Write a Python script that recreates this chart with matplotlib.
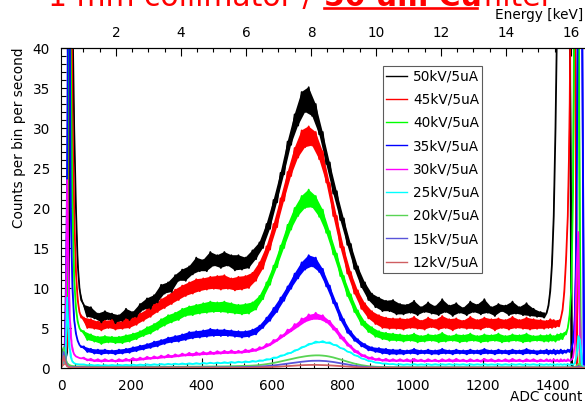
import numpy as np
import matplotlib
matplotlib.use("Agg")
import matplotlib.pyplot as plt
from matplotlib.lines import Line2D
from matplotlib.ticker import MultipleLocator

plt.rcParams['font.family'] = ['DejaVu Sans']

# ADC binning: 5-channel bins at the two detector edges, 10-channel bins in between
adc_edges = np.concatenate([np.arange(0, 60, 5), np.arange(60, 1380, 10), np.arange(1380, 1505, 5)])
adc_centers = 0.5 * (adc_edges[:-1] + adc_edges[1:])

# energy calibration for the top axis
kev_offset = 28.5
adc_per_kev = 92.5

labels = ['50kV/5uA', '45kV/5uA', '40kV/5uA', '35kV/5uA', '30kV/5uA',
          '25kV/5uA', '20kV/5uA', '15kV/5uA', '12kV/5uA']
colors = ['#000000', '#ff0000', '#00ff00', '#0000ff', '#ff00ff',
          '#00ffff', '#59d454', '#5954d9', '#cf5e61']

cps_50kv = [1.2, 2.4, 1.0, 2.0, 12.0, 55.0, 45.0, 30.0, 20.0, 13.0, 10.0, 8.5,
            7.9, 6.4, 7.6, 6.2, 6.8, 5.7, 7.1, 6.1, 6.8, 5.6,
            6.6, 5.9, 7.4, 6.0, 7.0, 6.4, 8.0, 7.3, 8.7, 7.4,
            9.1, 8.2, 10.4, 9.3, 10.7, 9.5, 11.6, 10.9, 12.3, 10.9,
            12.7, 11.7, 13.8, 12.1, 13.5, 12.1, 14.5, 12.8, 14.1, 12.5,
            14.5, 12.8, 14.1, 12.2, 14.1, 12.3, 13.8, 12.5, 14.7, 13.6,
            15.7, 15.0, 18.0, 17.4, 21.0, 20.7, 24.4, 24.2, 28.3, 27.9,
            31.7, 30.3, 34.5, 32.0, 35.1, 31.5, 33.0, 29.2, 29.5, 25.5,
            25.7, 21.8, 22.1, 18.5, 18.7, 15.4, 15.5, 12.4, 12.7, 10.1,
            10.7, 8.5, 9.3, 7.6, 8.8, 7.1, 8.4, 7.1, 8.5, 6.7,
            8.0, 6.7, 7.9, 6.9, 8.4, 6.6, 7.6, 7.0, 8.2, 6.8,
            7.7, 6.6, 8.6, 7.0, 7.8, 6.5, 8.1, 6.9, 7.5, 6.6,
            8.3, 7.0, 7.9, 6.7, 8.6, 6.9, 7.6, 6.5, 8.0, 7.1,
            7.8, 6.6, 8.3, 6.8, 7.6, 6.6, 8.1, 6.5, 7.4, 6.4,
            7.0, 6.3,
            6.9, 7.8, 9.6, 13.0, 19.0, 30.0, 45.0, 60.0, 60.0, 60.0, 60.0, 60.0,
            60.0, 60.0, 0.4, 0.2, 0.1, 0.1, 0.1, 0.1, 0.1, 0.1, 0.1, 0.1]

cps_45kv = [1.0, 2.0, 1.0, 3.0, 35.0, 60.0, 32.0, 19.0, 12.0, 8.5, 7.0, 6.3,
            6.3, 5.0, 6.1, 4.9, 5.8, 4.7, 5.9, 5.0, 6.0, 4.8,
            5.7, 4.9, 6.1, 5.0, 6.2, 5.4, 6.8, 5.9, 7.3, 6.4,
            7.9, 7.0, 8.6, 7.5, 9.1, 8.0, 9.8, 8.5, 10.3, 9.0,
            10.7, 9.3, 11.1, 9.6, 11.2, 9.8, 11.4, 9.9, 11.5, 9.8,
            11.6, 9.9, 11.2, 9.7, 11.4, 9.8, 11.5, 10.0, 11.9, 10.9,
            13.2, 12.4, 15.2, 14.8, 18.0, 17.6, 21.2, 20.9, 24.5, 24.0,
            27.5, 26.3, 29.7, 27.6, 30.2, 27.8, 29.5, 26.1, 27.1, 23.2,
            23.1, 19.0, 19.0, 15.1, 15.1, 11.8, 12.0, 9.3, 9.7, 7.4,
            8.1, 6.2, 7.1, 5.5, 6.6, 5.0, 6.3, 4.9, 6.2, 4.9,
            6.2, 4.8, 6.1, 5.0, 6.4, 4.9, 5.9, 4.8, 6.3, 5.1,
            6.0, 4.8, 6.5, 5.0, 6.1, 4.7, 6.2, 5.0, 5.9, 4.9,
            6.4, 4.9, 6.0, 4.8, 6.3, 5.1, 6.1, 4.7, 6.2, 5.0,
            6.0, 4.8, 6.4, 5.0, 6.0, 4.9, 6.3, 4.8, 6.1, 4.9,
            6.0, 4.9,
            5.9, 5.0, 6.1, 5.0, 6.0, 5.1, 5.9, 5.2, 6.2, 7.2, 9.5, 13.5,
            19.0, 30.0, 60.0, 60.0, 60.0, 0.5, 0.2, 0.2, 0.2, 0.2, 0.2, 0.2]

cps_40kv = [0.8, 1.8, 1.0, 8.0, 60.0, 40.0, 20.0, 11.0, 7.5, 5.8, 5.0, 4.6,
            4.6, 3.5, 4.2, 3.3, 3.9, 3.0, 4.0, 3.2, 3.9, 3.1,
            3.9, 3.1, 4.1, 3.3, 4.3, 3.6, 4.6, 4.0, 5.1, 4.3,
            5.5, 4.8, 6.1, 5.3, 6.6, 5.7, 6.9, 6.0, 7.4, 6.5,
            7.7, 6.6, 7.9, 6.8, 8.1, 6.9, 8.3, 7.0, 8.2, 7.0,
            8.3, 6.9, 8.1, 6.8, 7.9, 6.7, 8.0, 6.8, 8.2, 7.3,
            9.0, 8.6, 10.7, 10.4, 12.8, 12.6, 15.3, 15.0, 17.9, 17.3,
            20.0, 19.0, 21.5, 20.0, 22.3, 20.1, 21.5, 18.9, 19.8, 16.9,
            17.1, 14.2, 14.3, 11.5, 11.5, 9.0, 9.2, 7.0, 7.2, 5.4,
            5.8, 4.5, 5.1, 3.9, 4.6, 3.6, 4.4, 3.4, 4.3, 3.4,
            4.2, 3.3, 4.1, 3.4, 4.3, 3.2, 4.0, 3.3, 4.2, 3.4,
            4.1, 3.2, 4.4, 3.3, 4.0, 3.4, 4.2, 3.2, 4.1, 3.3,
            4.3, 3.4, 4.0, 3.2, 4.2, 3.3, 4.1, 3.4, 4.3, 3.2,
            4.0, 3.3, 4.2, 3.4, 4.1, 3.2, 4.3, 3.3, 4.0, 3.4,
            4.1, 3.3,
            4.1, 3.3, 4.2, 3.4, 4.0, 3.3, 4.2, 3.5, 4.3, 3.6, 4.4, 4.2,
            5.0, 6.5, 10.0, 22.0, 60.0, 60.0, 60.0, 0.5, 0.3, 0.2, 0.2, 0.2]

cps_35kv = [0.7, 1.5, 1.0, 25.0, 70.0, 20.0, 10.0, 6.0, 4.3, 3.4, 2.9, 2.6,
            2.7, 2.0, 2.4, 1.8, 2.3, 1.7, 2.3, 1.8, 2.2, 1.7,
            2.3, 1.8, 2.4, 1.9, 2.6, 2.1, 2.8, 2.3, 3.0, 2.5,
            3.3, 2.7, 3.5, 3.0, 3.8, 3.2, 4.0, 3.3, 4.2, 3.5,
            4.5, 3.7, 4.6, 3.8, 4.7, 3.9, 4.9, 4.0, 4.8, 4.0,
            4.8, 4.0, 4.7, 3.9, 4.6, 3.8, 4.6, 3.9, 4.8, 4.2,
            5.3, 5.0, 6.3, 5.9, 7.5, 7.0, 8.8, 8.4, 10.2, 9.9,
            11.8, 11.2, 13.2, 12.3, 14.1, 12.7, 13.8, 12.0, 12.4, 10.2,
            10.3, 8.1, 8.1, 6.0, 6.1, 4.4, 4.6, 3.4, 3.6, 2.7,
            3.0, 2.2, 2.6, 2.0, 2.5, 1.8, 2.4, 1.7, 2.3, 1.7,
            2.3, 1.7, 2.2, 1.8, 2.4, 1.7, 2.2, 1.8, 2.3, 1.7,
            2.2, 1.7, 2.4, 1.8, 2.2, 1.7, 2.3, 1.8, 2.2, 1.7,
            2.3, 1.8, 2.2, 1.7, 2.4, 1.8, 2.2, 1.7, 2.3, 1.8,
            2.2, 1.7, 2.3, 1.8, 2.2, 1.7, 2.4, 1.8, 2.2, 1.7,
            2.2, 1.8,
            2.3, 1.7, 2.2, 1.8, 2.3, 1.7, 2.2, 1.8, 2.3, 1.8, 2.2, 1.9,
            2.3, 2.0, 2.4, 3.2, 6.0, 18.0, 60.0, 60.0, 60.0, 0.5, 0.3, 0.3]

cps_30kv = [0.6, 1.2, 0.8, 23.5, 9.0, 4.0, 2.3, 1.7, 1.45, 1.35, 1.25, 1.2,
            1.3, 0.95, 1.15, 0.85, 1.1, 0.8, 1.1, 0.85, 1.05, 0.8,
            1.1, 0.85, 1.15, 0.9, 1.25, 0.95, 1.3, 1.05, 1.4, 1.15,
            1.45, 1.2, 1.55, 1.3, 1.65, 1.35, 1.7, 1.45, 1.8, 1.55,
            1.9, 1.55, 1.95, 1.65, 2.0, 1.7, 2.05, 1.75, 2.1, 1.8,
            2.15, 1.85, 2.2, 1.85, 2.15, 1.9, 2.3, 2.0, 2.4, 2.15,
            2.6, 2.45, 3.0, 2.85, 3.5, 3.4, 4.1, 4.0, 4.8, 4.6,
            5.5, 5.2, 6.2, 5.8, 6.7, 6.1, 6.9, 6.1, 6.6, 5.7,
            5.9, 4.8, 4.9, 3.7, 3.8, 2.8, 2.8, 2.0, 2.1, 1.5,
            1.6, 1.15, 1.35, 1.0, 1.2, 0.9, 1.15, 0.85, 1.1, 0.85,
            1.1, 0.85, 1.1, 0.8, 1.15, 0.85, 1.05, 0.8, 1.1, 0.85,
            1.05, 0.8, 1.1, 0.85, 1.1, 0.8, 1.15, 0.85, 1.05, 0.8,
            1.1, 0.85, 1.05, 0.8, 1.15, 0.85, 1.1, 0.8, 1.05, 0.85,
            1.1, 0.8, 1.15, 0.85, 1.05, 0.8, 1.1, 0.85, 1.1, 0.8,
            1.05, 0.85,
            1.1, 0.85, 1.05, 0.8, 1.1, 0.85, 1.05, 0.8, 1.1, 0.85, 1.05, 0.85,
            1.1, 0.9, 1.0, 1.3, 3.0, 12.0, 17.0, 2.0, 0.3, 0.2, 0.2, 0.2]

cps_25kv = [0.4, 0.8, 0.6, 8.8, 3.5, 1.4, 0.8, 0.6, 0.5, 0.47, 0.45, 0.45,
            0.45, 0.35, 0.4, 0.32, 0.38, 0.3, 0.37, 0.31, 0.38, 0.32,
            0.39, 0.33, 0.4, 0.34, 0.42, 0.35, 0.43, 0.37, 0.45, 0.38,
            0.47, 0.4, 0.5, 0.42, 0.52, 0.44, 0.54, 0.46, 0.56, 0.48,
            0.58, 0.5, 0.6, 0.52, 0.63, 0.55, 0.66, 0.57, 0.68, 0.6,
            0.72, 0.63, 0.75, 0.66, 0.78, 0.7, 0.82, 0.74, 0.88, 0.8,
            0.95, 0.92, 1.1, 1.08, 1.3, 1.3, 1.55, 1.6, 1.85, 1.9,
            2.2, 2.3, 2.6, 2.7, 3.0, 3.05, 3.3, 3.2, 3.35, 3.15,
            3.2, 2.9, 2.85, 2.5, 2.4, 2.05, 1.95, 1.6, 1.5, 1.2,
            1.1, 0.88, 0.85, 0.68, 0.66, 0.55, 0.56, 0.47, 0.5, 0.42,
            0.48, 0.4, 0.47, 0.41, 0.49, 0.4, 0.46, 0.41, 0.48, 0.39,
            0.48, 0.4, 0.47, 0.41, 0.49, 0.4, 0.46, 0.41, 0.48, 0.39,
            0.48, 0.4, 0.47, 0.41, 0.49, 0.4, 0.46, 0.41, 0.48, 0.39,
            0.48, 0.4, 0.47, 0.41, 0.49, 0.4, 0.46, 0.41, 0.48, 0.39,
            0.47, 0.4,
            0.48, 0.4, 0.47, 0.41, 0.48, 0.4, 0.47, 0.41, 0.48, 0.4, 0.47, 0.41,
            0.48, 0.4, 0.47, 0.42, 0.6, 1.5, 4.0, 3.5, 0.3, 0.15, 0.1, 0.1]

cps_20kv = [0.3, 2.6, 1.2, 0.6, 0.4, 0.3, 0.25, 0.22, 0.2, 0.2, 0.2, 0.2,
            0.2, 0.17, 0.15, 0.14, 0.13, 0.13, 0.13, 0.13, 0.13, 0.13,
            0.13, 0.13, 0.13, 0.13, 0.13, 0.13, 0.14, 0.14, 0.14, 0.14,
            0.14, 0.15, 0.15, 0.15, 0.15, 0.16, 0.16, 0.16, 0.16, 0.17,
            0.17, 0.17, 0.18, 0.18, 0.18, 0.19, 0.19, 0.19, 0.2, 0.2,
            0.2, 0.21, 0.21, 0.22, 0.23, 0.24, 0.26, 0.28, 0.3, 0.33,
            0.37, 0.42, 0.48, 0.55, 0.63, 0.72, 0.82, 0.92, 1.02, 1.12,
            1.22, 1.31, 1.39, 1.46, 1.52, 1.56, 1.58, 1.58, 1.55, 1.5,
            1.42, 1.32, 1.2, 1.07, 0.93, 0.8, 0.67, 0.55, 0.45, 0.36,
            0.29, 0.23, 0.19, 0.16, 0.14, 0.13, 0.12, 0.12, 0.11, 0.11,
            0.1, 0.1, 0.1, 0.1, 0.1, 0.1, 0.1, 0.1, 0.1, 0.1,
            0.1, 0.1, 0.1, 0.1, 0.1, 0.1, 0.1, 0.1, 0.1, 0.1,
            0.1, 0.1, 0.1, 0.1, 0.1, 0.1, 0.1, 0.1, 0.1, 0.1,
            0.1, 0.1, 0.1, 0.1, 0.1, 0.1, 0.1, 0.1, 0.1, 0.1,
            0.1, 0.1,
            0.1, 0.1, 0.1, 0.1, 0.1, 0.1, 0.1, 0.1, 0.1, 0.1, 0.1, 0.1,
            0.1, 0.1, 0.1, 0.1, 0.15, 0.25, 0.5, 0.4, 0.1, 0.05, 0.05, 0.05]

cps_15kv = [0.3, 2.0, 0.9, 0.3, 0.15, 0.1, 0.1, 0.1, 0.1, 0.1, 0.1, 0.1,
            0.1, 0.08, 0.07, 0.06, 0.06, 0.06, 0.06, 0.06, 0.06, 0.06,
            0.06, 0.06, 0.06, 0.06, 0.06, 0.06, 0.06, 0.06, 0.06, 0.06,
            0.06, 0.06, 0.06, 0.07, 0.07, 0.07, 0.07, 0.07, 0.07, 0.07,
            0.07, 0.07, 0.07, 0.08, 0.08, 0.08, 0.08, 0.08, 0.08, 0.08,
            0.08, 0.08, 0.09, 0.09, 0.1, 0.1, 0.11, 0.12, 0.13, 0.15,
            0.17, 0.2, 0.24, 0.28, 0.32, 0.37, 0.43, 0.49, 0.55, 0.61,
            0.67, 0.73, 0.78, 0.83, 0.87, 0.9, 0.91, 0.91, 0.89, 0.86,
            0.81, 0.75, 0.68, 0.6, 0.52, 0.44, 0.36, 0.29, 0.23, 0.18,
            0.14, 0.11, 0.09, 0.07, 0.06, 0.05, 0.05, 0.05, 0.05, 0.05,
            0.05, 0.05, 0.05, 0.05, 0.05, 0.05, 0.05, 0.05, 0.05, 0.05,
            0.05, 0.05, 0.05, 0.05, 0.05, 0.05, 0.05, 0.05, 0.05, 0.05,
            0.05, 0.05, 0.05, 0.05, 0.05, 0.05, 0.05, 0.05, 0.05, 0.05,
            0.05, 0.05, 0.05, 0.05, 0.05, 0.05, 0.05, 0.05, 0.05, 0.05,
            0.05, 0.05,
            0.05, 0.05, 0.05, 0.05, 0.05, 0.05, 0.05, 0.05, 0.05, 0.05, 0.05, 0.05,
            0.05, 0.05, 0.05, 0.05, 0.05, 0.1, 0.2, 0.15, 0.05, 0.03, 0.03, 0.03]

cps_12kv = [0.2, 1.5, 0.6, 0.2, 0.1, 0.05, 0.04, 0.03, 0.03, 0.03, 0.03, 0.03,
            0.05, 0.04, 0.03, 0.03, 0.03, 0.03, 0.03, 0.03, 0.03, 0.03,
            0.03, 0.03, 0.03, 0.03, 0.03, 0.03, 0.03, 0.03, 0.03, 0.03,
            0.03, 0.03, 0.03, 0.03, 0.03, 0.03, 0.03, 0.03, 0.03, 0.03,
            0.03, 0.03, 0.03, 0.03, 0.03, 0.03, 0.03, 0.03, 0.03, 0.03,
            0.03, 0.03, 0.03, 0.03, 0.03, 0.03, 0.04, 0.04, 0.05, 0.05,
            0.06, 0.07, 0.09, 0.11, 0.13, 0.15, 0.18, 0.21, 0.24, 0.27,
            0.3, 0.33, 0.35, 0.37, 0.38, 0.39, 0.39, 0.38, 0.37, 0.35,
            0.33, 0.3, 0.27, 0.23, 0.2, 0.17, 0.14, 0.11, 0.08, 0.06,
            0.05, 0.04, 0.03, 0.03, 0.03, 0.02, 0.02, 0.02, 0.02, 0.02,
            0.02, 0.02, 0.02, 0.02, 0.02, 0.02, 0.02, 0.02, 0.02, 0.02,
            0.02, 0.02, 0.02, 0.02, 0.02, 0.02, 0.02, 0.02, 0.02, 0.02,
            0.02, 0.02, 0.02, 0.02, 0.02, 0.02, 0.02, 0.02, 0.02, 0.02,
            0.02, 0.02, 0.02, 0.02, 0.02, 0.02, 0.02, 0.02, 0.02, 0.02,
            0.02, 0.02,
            0.02, 0.02, 0.02, 0.02, 0.02, 0.02, 0.02, 0.02, 0.02, 0.02, 0.02, 0.02,
            0.02, 0.02, 0.02, 0.02, 0.02, 0.02, 0.05, 0.06, 0.02, 0.02, 0.02, 0.02]

spectra = [cps_50kv, cps_45kv, cps_40kv, cps_35kv, cps_30kv,
           cps_25kv, cps_20kv, cps_15kv, cps_12kv]

W, H = 585, 404
fs = 9.8
fig = plt.figure(figsize=(W / 100, H / 100), dpi=100)
ax = fig.add_axes([61 / W, 36 / H, 527 / W, 320 / H])

for vals, col in zip(spectra, colors):
    v = np.asarray(vals)
    # bin-to-bin scatter: shade between the even and the odd bins
    even = np.interp(adc_centers, adc_centers[0::2], v[0::2])
    odd = np.interp(adc_centers, adc_centers[1::2], v[1::2])
    ax.fill_between(adc_centers, even, odd, color=col, lw=0)
    ax.plot(adc_centers, v, color=col, lw=1.3)

ax.set_xlim(0, 1500)
ax.set_ylim(0, 40)
ax.set_xticks(range(0, 1500, 200))
ax.xaxis.set_minor_locator(MultipleLocator(40))
ax.set_yticks(range(0, 41, 5))
ax.yaxis.set_minor_locator(MultipleLocator(1))
ax.tick_params(which='both', direction='in', top=False, right=False, labelsize=fs, width=0.8)
ax.tick_params(which='major', length=7.5)
ax.tick_params(which='minor', length=3.7)
ax.tick_params(axis='x', pad=8)
ax.tick_params(axis='y', pad=8)

# energy scale along the top
sec = ax.secondary_xaxis('top', functions=(lambda a: (a + kev_offset) / adc_per_kev,
                                           lambda e: e * adc_per_kev - kev_offset))
sec.set_xticks(range(2, 17, 2))
sec.xaxis.set_minor_locator(MultipleLocator(0.5))
sec.tick_params(which='both', direction='in', labelsize=fs, width=0.8, pad=6)
sec.tick_params(which='major', length=5.5)
sec.tick_params(which='minor', length=3)

fig.text(583 / W, 1 - 19 / H, 'Energy [keV]', ha='right', va='baseline', fontsize=fs)
fig.text(582 / W, 1 - 401 / H, 'ADC count', ha='right', va='baseline', fontsize=fs)
fig.text(19 / W, 1 - 48 / H, 'Counts per bin per second', rotation=90,
         ha='center', va='top', fontsize=fs)

handles = [Line2D([], [], color=c, lw=1.0) for c in colors]
leg = ax.legend(handles, labels, loc='upper left', bbox_to_anchor=(383 / W, 1 - 66 / H),
                bbox_transform=fig.transFigure, borderaxespad=0, frameon=True,
                fancybox=False, edgecolor='#333333', fontsize=fs, handlelength=1.5,
                handletextpad=0.45, labelspacing=0.68, borderpad=0.25)
leg.get_frame().set_linewidth(0.8)

# red heading, mostly cut off at the top edge
fig.text(48 / W, 1 - 6 / H, '1 mm collimator / ', color='red', fontsize=21.5, va='baseline')
fig.text(324 / W, 1 - 6 / H, '50 um Cu', color='red', fontsize=21.5, fontweight='bold', va='baseline')
fig.text(474 / W, 1 - 6 / H, ' filter', color='red', fontsize=21.5, va='baseline')
fig.add_artist(Line2D([324 / W, 477 / W], [1 - 8 / H] * 2, color='red', lw=1.9,
                      transform=fig.transFigure))

fig.savefig('out.png', dpi=100)
